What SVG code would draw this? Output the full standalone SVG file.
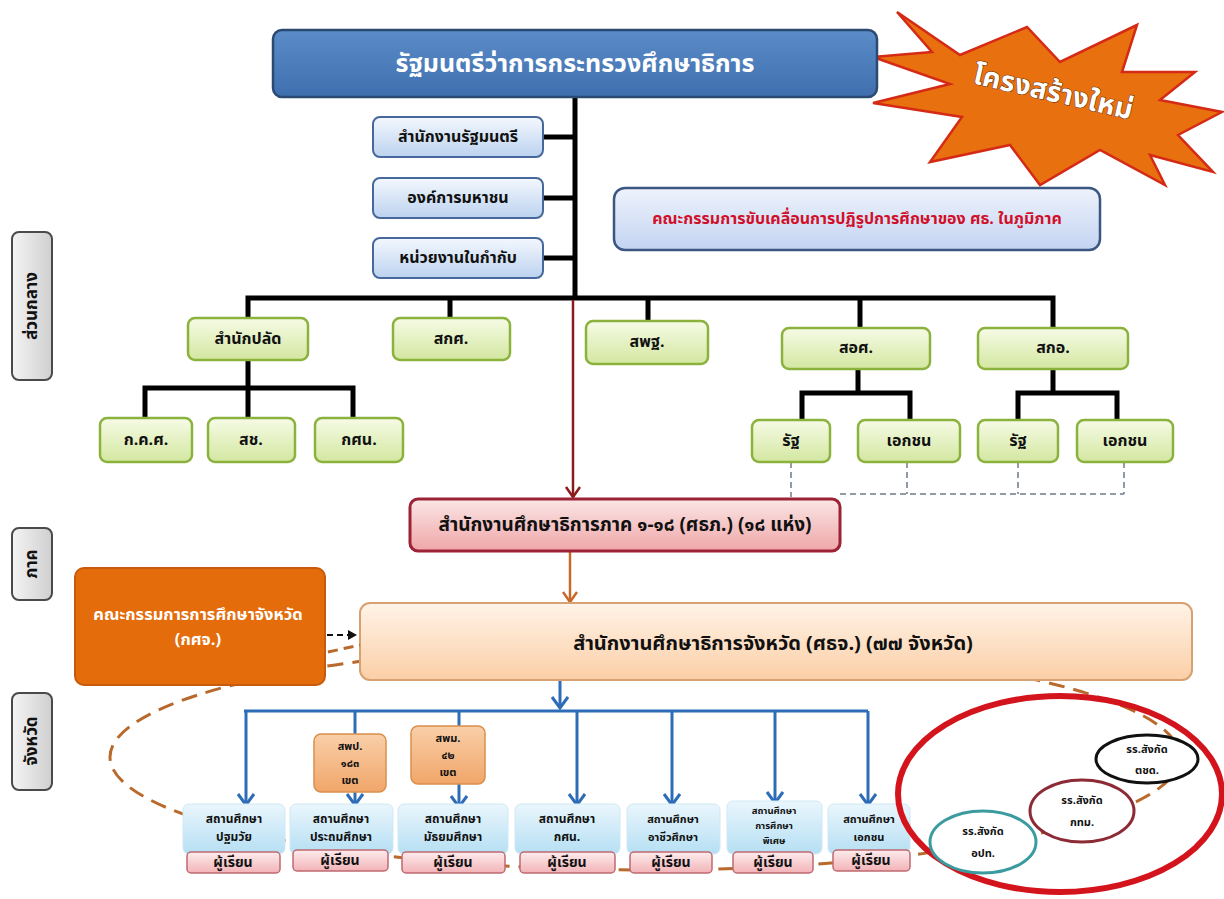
<svg xmlns="http://www.w3.org/2000/svg" width="1224" height="899" viewBox="0 0 1224 899">
<defs>
<linearGradient id="gTop" x1="0" y1="0" x2="0" y2="1"><stop offset="0" stop-color="#5b8cc8"/><stop offset="1" stop-color="#3f6fae"/></linearGradient>
<linearGradient id="gSide" x1="0" y1="0" x2="0" y2="1"><stop offset="0" stop-color="#f4f8fe"/><stop offset="1" stop-color="#bcd2ef"/></linearGradient>
<linearGradient id="gCom" x1="0" y1="0" x2="0" y2="1"><stop offset="0" stop-color="#eef3fc"/><stop offset="1" stop-color="#c3d4f1"/></linearGradient>
<linearGradient id="gGreen" x1="0" y1="0" x2="0" y2="1"><stop offset="0" stop-color="#f6fbe6"/><stop offset="1" stop-color="#d3e7a0"/></linearGradient>
<linearGradient id="gRed" x1="0" y1="0" x2="0" y2="1"><stop offset="0" stop-color="#fbe6e6"/><stop offset="1" stop-color="#efa6a8"/></linearGradient>
<linearGradient id="gPeach" x1="0" y1="0" x2="0" y2="1"><stop offset="0" stop-color="#fff3e8"/><stop offset="1" stop-color="#fbcfa6"/></linearGradient>
<linearGradient id="gArea" x1="0" y1="0" x2="0" y2="1"><stop offset="0" stop-color="#f9cfa8"/><stop offset="1" stop-color="#f1a66a"/></linearGradient>
<linearGradient id="gSchool" x1="0" y1="0" x2="0" y2="1"><stop offset="0" stop-color="#eaf6fd"/><stop offset="1" stop-color="#b5dff3"/></linearGradient>
<linearGradient id="gPink" x1="0" y1="0" x2="0" y2="1"><stop offset="0" stop-color="#fdeced"/><stop offset="1" stop-color="#f2b3b7"/></linearGradient>
<linearGradient id="gGray" x1="0" y1="0" x2="1" y2="0"><stop offset="0" stop-color="#f4f4f4"/><stop offset="1" stop-color="#cfcfcf"/></linearGradient>
<marker id="aRed" markerUnits="userSpaceOnUse" markerWidth="20" markerHeight="20" refX="12" refY="8" orient="auto"><path d="M2,1 L12,8 L2,15" fill="none" stroke="#8b1c1c" stroke-width="2.5"/></marker>
<marker id="aOr" markerUnits="userSpaceOnUse" markerWidth="20" markerHeight="20" refX="12" refY="8" orient="auto"><path d="M2,1 L12,8 L2,15" fill="none" stroke="#c8692a" stroke-width="2.5"/></marker>
<marker id="aBlue" markerUnits="userSpaceOnUse" markerWidth="22" markerHeight="22" refX="13" refY="9" orient="auto"><path d="M2,1 L13,9 L2,17" fill="none" stroke="#2d6cb6" stroke-width="3"/></marker>
<marker id="aBlk" markerUnits="userSpaceOnUse" markerWidth="12" markerHeight="12" refX="9" refY="5" orient="auto"><path d="M0,0 L9,5 L0,10 Z" fill="#111"/></marker>
</defs>
<style>
text{font-family:"Noto Sans Thai","Tahoma","Liberation Sans","DejaVu Sans",sans-serif;font-weight:bold;text-anchor:middle;dominant-baseline:central}
.blk{stroke:#000;stroke-width:5;fill:none}
.side rect{fill:url(#gSide);stroke:#46689c;stroke-width:2}
.green rect{fill:url(#gGreen);stroke:#8ab23c;stroke-width:2.5}
.school rect{fill:url(#gSchool);stroke:#cfe8f4;stroke-width:1}
.pupil rect{fill:url(#gPink);stroke:#bf6a71;stroke-width:1.5}
.lbl rect{fill:url(#gGray);stroke:#4a4a4a;stroke-width:2}
.t16{font-size:16px;fill:#111}
.t12{font-size:12px;fill:#111}
.t11{font-size:11px;fill:#111}
.t14{font-size:14px;fill:#111}
.blue{stroke:#2d6cb6;stroke-width:3;fill:none}
</style>
<rect width="1224" height="899" fill="#fff"/>

<!-- big brown dashed loop (behind) -->
<ellipse cx="645" cy="757" rx="535" ry="113" fill="none" stroke="#b8692b" stroke-width="3" stroke-dasharray="16 9"/>

<!-- starburst -->
<g id="starburst">
<polygon points="897,12 960,55 1027,27 1060,62 1137,25 1122,72 1195,72 1160,100 1222,112 1178,135 1213,172 1150,155 1165,185 1100,150 1040,185 1010,145 930,162 962,117 873,103 950,84 873,57 932,52" fill="#e8700f" stroke="#d42a16" stroke-width="2.5" stroke-linejoin="miter"/>
<text x="1053" y="93" transform="rotate(13 1053 93)" font-size="28" fill="#fff" stroke="#5a2a0a" stroke-width="1" paint-order="stroke">โครงสร้างใหม่</text>
</g>

<!-- connectors -->
<g id="connectors">
<line class="blk" x1="575" y1="97" x2="575" y2="300"/>
<line class="blk" x1="543" y1="137" x2="575" y2="137"/>
<line class="blk" x1="543" y1="198" x2="575" y2="198"/>
<line class="blk" x1="543" y1="258" x2="575" y2="258"/>
<polyline class="blk" points="248,320 248,298 1053,298 1053,330"/>
<line class="blk" x1="450" y1="298" x2="450" y2="320"/>
<line class="blk" x1="648" y1="298" x2="648" y2="322"/>
<line class="blk" x1="860" y1="298" x2="860" y2="330"/>
<line class="blk" x1="248" y1="360" x2="248" y2="420"/>
<polyline class="blk" points="145,420 145,388 353,388 353,420"/>
<line class="blk" x1="858" y1="368" x2="858" y2="393"/>
<polyline class="blk" points="802,422 802,393 910,393 910,422"/>
<line class="blk" x1="1053" y1="368" x2="1053" y2="393"/>
<polyline class="blk" points="1018,422 1018,393 1117,393 1117,422"/>
<g stroke="#6f7c8a" stroke-width="1.5" stroke-dasharray="6 4" fill="none">
<line x1="791" y1="462" x2="791" y2="497"/>
<line x1="907" y1="462" x2="907" y2="494"/>
<line x1="1018" y1="462" x2="1018" y2="494"/>
<line x1="1124" y1="462" x2="1124" y2="494"/>
<line x1="840" y1="494" x2="1124" y2="494"/>
</g>
<line x1="573" y1="300" x2="573" y2="497" stroke="#8b1c1c" stroke-width="2.5" marker-end="url(#aRed)"/>
<line x1="570" y1="552" x2="570" y2="602" stroke="#c8692a" stroke-width="2.5" marker-end="url(#aOr)"/>
<line x1="327" y1="635" x2="357" y2="635" stroke="#111" stroke-width="2" stroke-dasharray="6 4" marker-end="url(#aBlk)"/>
<line class="blue" x1="560" y1="681" x2="560" y2="708" marker-end="url(#aBlue)"/>
<line class="blue" x1="244" y1="711" x2="868" y2="711"/>
<line class="blue" x1="246" y1="711" x2="246" y2="805" marker-end="url(#aBlue)"/>
<line class="blue" x1="355" y1="711" x2="355" y2="734"/>
<line class="blue" x1="355" y1="792" x2="355" y2="805" marker-end="url(#aBlue)"/>
<line class="blue" x1="459" y1="711" x2="459" y2="726"/>
<line class="blue" x1="459" y1="784" x2="459" y2="807" marker-end="url(#aBlue)"/>
<line class="blue" x1="577" y1="711" x2="577" y2="805" marker-end="url(#aBlue)"/>
<line class="blue" x1="672" y1="711" x2="672" y2="805" marker-end="url(#aBlue)"/>
<line class="blue" x1="775" y1="711" x2="775" y2="803" marker-end="url(#aBlue)"/>
<line class="blue" x1="868" y1="711" x2="868" y2="805" marker-end="url(#aBlue)"/>
</g>

<!-- side labels -->
<g id="lbl-central" class="lbl"><rect x="12" y="232" width="40" height="148" rx="7"/><text font-size="17" fill="#111" x="32" y="306" transform="rotate(-90 32 306)">ส่วนกลาง</text></g>
<g id="lbl-region" class="lbl"><rect x="12" y="528" width="40" height="72" rx="7"/><text font-size="17" fill="#111" x="32" y="564" transform="rotate(-90 32 564)">ภาค</text></g>
<g id="lbl-province" class="lbl"><rect x="12" y="693" width="40" height="97" rx="7"/><text font-size="17" fill="#111" x="32" y="741" transform="rotate(-90 32 741)">จังหวัด</text></g>

<!-- top -->
<g id="minister"><rect x="273" y="30" width="604" height="67" rx="9" fill="url(#gTop)" stroke="#2b4a72" stroke-width="2.5"/><text x="575" y="64" font-size="25" fill="#fff">รัฐมนตรีว่าการกระทรวงศึกษาธิการ</text></g>
<g id="side1" class="side"><rect x="373" y="117" width="170" height="40" rx="7"/><text class="t16" x="458" y="137">สำนักงานรัฐมนตรี</text></g>
<g id="side2" class="side"><rect x="373" y="178" width="170" height="40" rx="7"/><text class="t16" x="458" y="198">องค์การมหาชน</text></g>
<g id="side3" class="side"><rect x="373" y="238" width="170" height="40" rx="7"/><text class="t16" x="458" y="258">หน่วยงานในกำกับ</text></g>
<g id="committee"><rect x="614" y="188" width="486" height="62" rx="11" fill="url(#gCom)" stroke="#3b5680" stroke-width="2.5"/><text x="857" y="219" font-size="16" fill="#d0102a">คณะกรรมการขับเคลื่อนการปฏิรูปการศึกษาของ ศธ. ในภูมิภาค</text></g>

<!-- green -->
<g id="opsec" class="green"><rect x="188" y="318" width="120" height="42" rx="7"/><text class="t16" x="248" y="339">สำนักปลัด</text></g>
<g id="onec" class="green"><rect x="393" y="318" width="117" height="42" rx="7"/><text class="t16" x="451" y="339">สกศ.</text></g>
<g id="obec" class="green"><rect x="586" y="321" width="122" height="43" rx="7"/><text class="t16" x="647" y="342">สพฐ.</text></g>
<g id="ovec" class="green"><rect x="782" y="328" width="148" height="41" rx="7"/><text class="t16" x="856" y="348">สอศ.</text></g>
<g id="ohec" class="green"><rect x="978" y="328" width="150" height="41" rx="7"/><text class="t16" x="1053" y="348">สกอ.</text></g>
<g id="tcc" class="green"><rect x="100" y="418" width="92" height="44" rx="7"/><text class="t16" x="146" y="440">ก.ค.ศ.</text></g>
<g id="opec" class="green"><rect x="208" y="418" width="87" height="44" rx="7"/><text class="t16" x="251" y="440">สช.</text></g>
<g id="nfe" class="green"><rect x="315" y="418" width="88" height="44" rx="7"/><text class="t16" x="359" y="440">กศน.</text></g>
<g id="ovec-gov" class="green"><rect x="752" y="420" width="78" height="42" rx="7"/><text class="t16" x="791" y="441">รัฐ</text></g>
<g id="ovec-priv" class="green"><rect x="858" y="420" width="102" height="42" rx="7"/><text class="t16" x="909" y="441">เอกชน</text></g>
<g id="ohec-gov" class="green"><rect x="978" y="420" width="80" height="42" rx="7"/><text class="t16" x="1018" y="441">รัฐ</text></g>
<g id="ohec-priv" class="green"><rect x="1077" y="420" width="96" height="42" rx="7"/><text class="t16" x="1125" y="441">เอกชน</text></g>

<!-- region -->
<g id="region"><rect x="410" y="499" width="430" height="52" rx="8" fill="url(#gRed)" stroke="#9b2335" stroke-width="3"/><text x="625" y="525" font-size="19" fill="#111">สำนักงานศึกษาธิการภาค ๑-๑๘ (ศธภ.) (๑๘ แห่ง)</text></g>

<!-- province -->
<g id="pcommittee"><rect x="75" y="568" width="250" height="117" rx="9" fill="#e46c0a" stroke="#c75a0c" stroke-width="2"/><text x="198" y="614" font-size="16.5" fill="#fff">คณะกรรมการการศึกษาจังหวัด</text><text x="198" y="639" font-size="16.5" fill="#fff">(กศจ.)</text></g>
<g id="province"><rect x="360" y="603" width="832" height="77" rx="10" fill="url(#gPeach)" stroke="#d6a271" stroke-width="2"/><text x="773" y="644" font-size="20" fill="#111">สำนักงานศึกษาธิการจังหวัด (ศธจ.) (๗๗ จังหวัด)</text></g>
<line x1="328" y1="652" x2="360" y2="645" stroke="#b8692b" stroke-width="3" stroke-dasharray="10 6"/>

<!-- area offices -->
<g id="pesao"><rect x="314" y="734" width="72" height="58" rx="7" fill="url(#gArea)" stroke="#d8904e" stroke-width="1.5"/><text class="t11" x="350" y="746">สพป.</text><text class="t11" x="350" y="763">๑๘๓</text><text class="t11" x="350" y="780">เขต</text></g>
<g id="sesao"><rect x="411" y="726" width="74" height="58" rx="7" fill="url(#gArea)" stroke="#d8904e" stroke-width="1.5"/><text class="t11" x="448" y="738">สพม.</text><text class="t11" x="448" y="755">๔๒</text><text class="t11" x="448" y="772">เขต</text></g>

<!-- schools -->
<g id="s1" class="school"><rect x="183" y="804" width="102" height="50" rx="6"/><text class="t12" x="234" y="819">สถานศึกษา</text><text class="t12" x="234" y="837">ปฐมวัย</text></g>
<g id="s2" class="school"><rect x="290" y="804" width="103" height="50" rx="6"/><text class="t12" x="341" y="819">สถานศึกษา</text><text class="t12" x="341" y="837">ประถมศึกษา</text></g>
<g id="s3" class="school"><rect x="398" y="804" width="110" height="50" rx="6"/><text class="t12" x="453" y="819">สถานศึกษา</text><text class="t12" x="453" y="837">มัธยมศึกษา</text></g>
<g id="s4" class="school"><rect x="515" y="804" width="105" height="50" rx="6"/><text class="t12" x="567" y="819">สถานศึกษา</text><text class="t12" x="567" y="837">กศน.</text></g>
<g id="s5" class="school"><rect x="627" y="804" width="93" height="50" rx="6"/><text class="t11" x="673" y="819">สถานศึกษา</text><text class="t11" x="673" y="837">อาชีวศึกษา</text></g>
<g id="s6" class="school"><rect x="727" y="801" width="95" height="53" rx="6"/><text font-size="9.5" fill="#111" x="774" y="811">สถานศึกษา</text><text font-size="9.5" fill="#111" x="774" y="826">การศึกษา</text><text font-size="9.5" fill="#111" x="774" y="841">พิเศษ</text></g>
<g id="s7" class="school"><rect x="828" y="804" width="82" height="50" rx="6"/><text class="t11" x="869" y="819">สถานศึกษา</text><text class="t11" x="869" y="837">เอกชน</text></g>

<g id="p1" class="pupil"><rect x="187" y="852" width="93" height="21" rx="4"/><text class="t14" x="233" y="862">ผู้เรียน</text></g>
<g id="p2" class="pupil"><rect x="293" y="850" width="95" height="21" rx="4"/><text class="t14" x="340" y="860">ผู้เรียน</text></g>
<g id="p3" class="pupil"><rect x="402" y="852" width="103" height="21" rx="4"/><text class="t14" x="453" y="862">ผู้เรียน</text></g>
<g id="p4" class="pupil"><rect x="520" y="852" width="95" height="21" rx="4"/><text class="t14" x="567" y="862">ผู้เรียน</text></g>
<g id="p5" class="pupil"><rect x="630" y="852" width="82" height="21" rx="4"/><text class="t14" x="671" y="862">ผู้เรียน</text></g>
<g id="p6" class="pupil"><rect x="733" y="852" width="80" height="21" rx="4"/><text class="t14" x="773" y="862">ผู้เรียน</text></g>
<g id="p7" class="pupil"><rect x="833" y="850" width="77" height="21" rx="4"/><text class="t14" x="871" y="860">ผู้เรียน</text></g>

<!-- other schools -->
<g id="others">
<ellipse cx="1060" cy="794" rx="162" ry="98" fill="none" stroke="#d3141c" stroke-width="6"/>
</g>
<g id="bpp"><ellipse cx="1147" cy="759" rx="51" ry="24" fill="#fff" stroke="#111" stroke-width="3"/><text x="1147" y="749" font-size="11" fill="#111">รร.สังกัด</text><text x="1147" y="770" font-size="11" fill="#111">ตชด.</text></g>
<g id="bma"><ellipse cx="1082" cy="811" rx="52" ry="31" fill="#fff" stroke="#8c2a35" stroke-width="3"/><text x="1082" y="800" font-size="11" fill="#111">รร.สังกัด</text><text x="1082" y="822" font-size="11" fill="#111">กทม.</text></g>
<g id="lao"><ellipse cx="983" cy="842" rx="53" ry="31" fill="#fff" stroke="#3b9b9f" stroke-width="3"/><text x="983" y="831" font-size="11" fill="#111">รร.สังกัด</text><text x="983" y="853" font-size="11" fill="#111">อปท.</text></g>
</svg>
